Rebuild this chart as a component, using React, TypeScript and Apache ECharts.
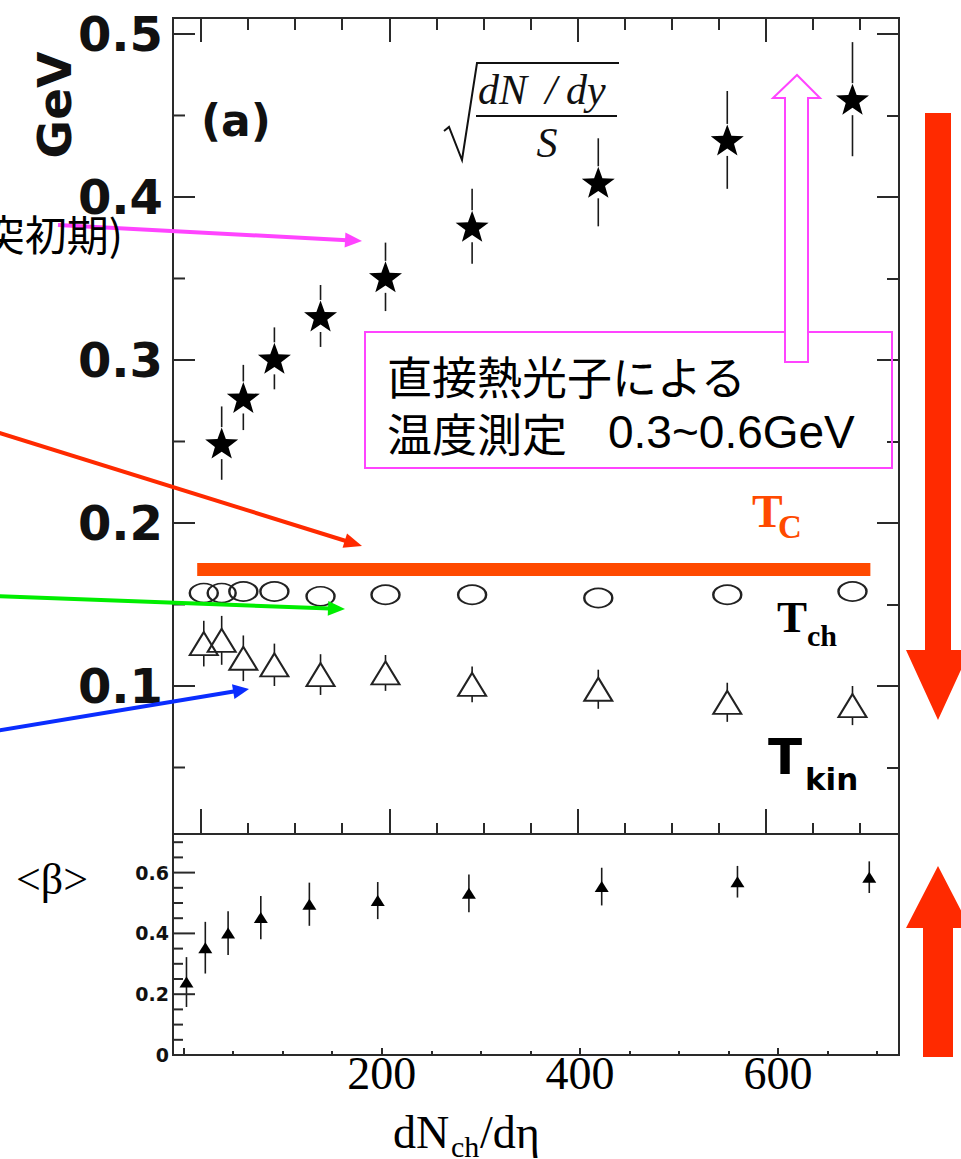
import React, { useEffect, useRef } from 'react';
import * as echarts from 'echarts';

// Charged-particle multiplicity dN_ch/dη of each centrality bin
const dNchdEta = [3, 22, 45, 78, 127, 196, 288, 422, 559, 692];
// sqrt((dN/dy)/S) in GeV, measured from the second bin on
const sqrtDensity = [0.249, 0.277, 0.301, 0.327, 0.351, 0.382, 0.409, 0.435, 0.46];
const sqrtDensityErr = [0.0225, 0.02, 0.019, 0.019, 0.021, 0.023, 0.027, 0.03, 0.035];
// Chemical freeze-out temperature T_ch (GeV)
const tChem = [0.157, 0.157, 0.158, 0.158, 0.155, 0.156, 0.156, 0.154, 0.156, 0.158];
// Kinetic freeze-out temperature T_kin (GeV)
const tKin = [0.126, 0.128, 0.117, 0.113, 0.107, 0.108, 0.101, 0.098, 0.09, 0.088];
const tKinErr = [0.014, 0.015, 0.014, 0.013, 0.0125, 0.011, 0.011, 0.012, 0.012, 0.012];
// Mean transverse flow velocity <β>
const beta = [0.24, 0.353, 0.401, 0.452, 0.496, 0.508, 0.532, 0.554, 0.57, 0.585];
const betaErr = [0.082, 0.085, 0.072, 0.071, 0.071, 0.061, 0.062, 0.062, 0.052, 0.052];
// Critical temperature T_C and the multiplicity span of its band
const tCritical = 0.1715;
const tCriticalSpan = [-4, 711];

// Axis ranges and tick positions
const topXRange = [-29.7, 741.4];
const topYRange = [0.0092, 0.5098];
const bottomXRange = [-10.6, 722];
const bottomYRange = [0, 0.727];
const xMajorTicks = [0, 200, 400, 600];
const xMinorTicks = [50, 100, 150, 250, 300, 350, 450, 500, 550, 650, 700];
const xTickLabels = [200, 400, 600];
const topYMajorTicks = [0.1, 0.2, 0.3, 0.4, 0.5];
const topYMinorTicks = [0.05, 0.15, 0.25, 0.35, 0.45];
const bottomYMajorTicks = [0, 0.2, 0.4, 0.6];
const bottomYMinorTicks = [0.05, 0.1, 0.15, 0.25, 0.3, 0.35, 0.45, 0.5, 0.55, 0.65, 0.7];

const FRAME = '#2a2a2a';
const INK = '#111';
const MAGENTA = '#FF44FF';
const RED = '#FF2A00';
const ORANGE = '#FF4A00';
const STAR =
  'path://M12,0.5 L14.9,8.6 L23.5,8.9 L16.7,14.2 L19.1,22.5 L12,17.6 L4.9,22.5 L7.3,14.2 L0.5,8.9 L9.1,8.6 Z';

function tickAxis(
  gridIndex: number,
  position: string,
  range: number[],
  ticks: number[],
  length: number,
  label?: any
) {
  return {
    type: 'value',
    gridIndex,
    position,
    min: range[0],
    max: range[1],
    axisLine: { show: false, onZero: false },
    splitLine: { show: false },
    axisTick: {
      show: length > 0,
      inside: true,
      length,
      customValues: ticks,
      lineStyle: { color: FRAME, width: 2 },
    },
    axisLabel: label ? { show: true, ...label } : { show: false },
  };
}

// Inward ticks along the left edge of a panel, placed by the panel's own scales
function leftTicks(xAxisIndex: number, yAxisIndex: number, xMin: number, values: number[], length: number) {
  return {
    type: 'custom',
    xAxisIndex,
    yAxisIndex,
    silent: true,
    z: 5,
    data: values.map((v) => [xMin, v]),
    encode: { x: 0, y: 1 },
    renderItem: (_params: any, api: any) => {
      const p = api.coord([api.value(0), api.value(1)]);
      return {
        type: 'line',
        shape: { x1: p[0], y1: p[1], x2: p[0] + length, y2: p[1] },
        style: { stroke: FRAME, lineWidth: 2 },
      };
    },
  };
}

function errorBars(xAxisIndex: number, yAxisIndex: number, data: number[][], gap: number, width: number) {
  return {
    type: 'custom',
    xAxisIndex,
    yAxisIndex,
    data,
    silent: true,
    z: 3,
    encode: { x: 0, y: 1 },
    renderItem: (_params: any, api: any) => {
      const x = api.value(0);
      const y = api.value(1);
      const e = api.value(2);
      const c = api.coord([x, y]);
      const hi = api.coord([x, y + e]);
      const lo = api.coord([x, y - e]);
      const style = { stroke: '#1a1a1a', lineWidth: width };
      const children: any[] = [];
      if (gap > 0) {
        if (c[1] - gap > hi[1])
          children.push({ type: 'line', shape: { x1: c[0], y1: hi[1], x2: c[0], y2: c[1] - gap }, style });
        if (lo[1] > c[1] + gap)
          children.push({ type: 'line', shape: { x1: c[0], y1: c[1] + gap, x2: c[0], y2: lo[1] }, style });
      } else {
        children.push({ type: 'line', shape: { x1: c[0], y1: hi[1], x2: c[0], y2: lo[1] }, style });
      }
      return { type: 'group', children };
    },
  };
}

function txt(
  x: number,
  y: number,
  text: string,
  fontSize: number,
  opts: { family?: string; weight?: string; italic?: boolean; fill?: string; align?: string; rotation?: number } = {}
) {
  const align = opts.align || 'left';
  return {
    type: 'text',
    x,
    y,
    rotation: opts.rotation || 0,
    z: 20,
    silent: true,
    style: {
      text,
      fontSize,
      fontFamily: opts.family || 'Liberation Serif',
      fontWeight: opts.weight || 'normal',
      fontStyle: opts.italic ? 'italic' : 'normal',
      fill: opts.fill || INK,
      align,
      verticalAlign: 'middle',
      textAlign: align,
      textVerticalAlign: 'middle',
    },
  };
}

// Straight arrow with a filled head ending at (x2, y2)
function arrow(x1: number, y1: number, x2: number, y2: number, color: string, headLen: number, headHalf: number) {
  const dx = x2 - x1;
  const dy = y2 - y1;
  const len = Math.hypot(dx, dy);
  const ux = dx / len;
  const uy = dy / len;
  const bx = x2 - ux * headLen;
  const by = y2 - uy * headLen;
  return [
    {
      type: 'line',
      z: 15,
      silent: true,
      shape: { x1, y1, x2: bx + ux * 2, y2: by + uy * 2 },
      style: { stroke: color, lineWidth: 4 },
    },
    {
      type: 'polygon',
      z: 15,
      silent: true,
      shape: {
        points: [
          [x2, y2],
          [bx - uy * headHalf, by + ux * headHalf],
          [bx + uy * headHalf, by - ux * headHalf],
        ],
      },
      style: { fill: color },
    },
  ];
}

function buildOption() {
  const topFont = { fontFamily: 'DejaVu Sans', fontWeight: 'bold', color: INK };

  const xAxis = [
    tickAxis(0, 'bottom', topXRange, xMajorTicks, 25),
    tickAxis(0, 'bottom', topXRange, xMinorTicks, 11),
    tickAxis(0, 'top', topXRange, xMajorTicks, 24),
    tickAxis(0, 'top', topXRange, xMinorTicks, 12),
    tickAxis(1, 'bottom', bottomXRange, xMajorTicks, 7, {
      customValues: xTickLabels,
      fontFamily: 'Liberation Serif',
      fontSize: 46,
      color: '#000',
      margin: -5,
      formatter: (v: number) => String(v),
    }),
    tickAxis(1, 'bottom', bottomXRange, xMinorTicks, 4),
  ];

  const yAxis = [
    tickAxis(0, 'left', topYRange, topYMajorTicks, 0, {
      customValues: topYMajorTicks,
      ...topFont,
      fontSize: 48,
      margin: 10,
      padding: [0, 0, 10, 0],
      formatter: (v: number) => v.toFixed(1),
    }),
    tickAxis(0, 'right', topYRange, topYMajorTicks, 22),
    tickAxis(0, 'right', topYRange, topYMinorTicks, 12),
    tickAxis(1, 'left', bottomYRange, bottomYMajorTicks, 0, {
      customValues: bottomYMajorTicks,
      ...topFont,
      fontSize: 19,
      margin: 4,
      formatter: (v: number) => (v === 0 ? '0' : v.toFixed(1)),
    }),
  ];

  const starX = dNchdEta.slice(1);
  const series: any[] = [
    leftTicks(0, 0, topXRange[0], topYMajorTicks, 22),
    leftTicks(0, 0, topXRange[0], topYMinorTicks, 12),
    leftTicks(4, 3, bottomXRange[0], bottomYMajorTicks, 22),
    leftTicks(4, 3, bottomXRange[0], bottomYMinorTicks, 10),
    {
      type: 'line',
      xAxisIndex: 0,
      yAxisIndex: 0,
      data: tCriticalSpan.map((x) => [x, tCritical]),
      symbol: 'none',
      silent: true,
      lineStyle: { color: ORANGE, width: 13, cap: 'butt' },
      z: 2,
    },
    errorBars(0, 0, starX.map((x, i) => [x, sqrtDensity[i], sqrtDensityErr[i]]), 16, 1.6),
    {
      type: 'scatter',
      xAxisIndex: 0,
      yAxisIndex: 0,
      data: starX.map((x, i) => [x, sqrtDensity[i]]),
      symbol: STAR,
      symbolSize: [33, 31],
      itemStyle: { color: '#000', opacity: 1 },
      z: 4,
    },
    {
      type: 'scatter',
      xAxisIndex: 0,
      yAxisIndex: 0,
      data: dNchdEta.map((x, i) => [x, tChem[i]]),
      symbol: 'circle',
      symbolSize: [28, 19],
      itemStyle: { color: 'rgba(0,0,0,0)', borderColor: '#222', borderWidth: 2, opacity: 1 },
      z: 4,
    },
    errorBars(0, 0, dNchdEta.map((x, i) => [x, tKin[i], tKinErr[i]]), 11.5, 1.6),
    {
      type: 'scatter',
      xAxisIndex: 0,
      yAxisIndex: 0,
      data: dNchdEta.map((x, i) => [x, tKin[i]]),
      symbol: 'triangle',
      symbolSize: [28, 23],
      itemStyle: { color: 'rgba(0,0,0,0)', borderColor: '#222', borderWidth: 2, opacity: 1 },
      z: 4,
    },
    errorBars(4, 3, dNchdEta.map((x, i) => [x, beta[i], betaErr[i]]), 0, 1.6),
    {
      type: 'scatter',
      xAxisIndex: 4,
      yAxisIndex: 3,
      data: dNchdEta.map((x, i) => [x, beta[i]]),
      symbol: 'triangle',
      symbolSize: [14, 11],
      itemStyle: { color: '#000', opacity: 1 },
      z: 4,
    },
  ];

  const sans = 'DejaVu Sans';
  const cjk = 'Noto Sans CJK JP';
  const graphic: any[] = [
    // panel annotations
    txt(54, 105, 'GeV', 47, { family: sans, weight: 'bold', align: 'center', rotation: Math.PI / 2 }),
    txt(201, 120, '(a)', 44, { family: sans, weight: 'bold' }),
    {
      type: 'polyline',
      z: 20,
      silent: true,
      shape: { points: [[444, 131], [449, 127], [462, 160], [477, 63], [619, 63]] },
      style: { stroke: INK, lineWidth: 2, fill: 'none' },
    },
    {
      type: 'line',
      z: 20,
      silent: true,
      shape: { x1: 476, y1: 116, x2: 617, y2: 116 },
      style: { stroke: INK, lineWidth: 2 },
    },
    txt(478, 90, 'dN', 42, { italic: true }),
    txt(551, 90, '/', 42, { italic: true, align: 'center' }),
    txt(566, 90, 'dy', 42, { italic: true }),
    txt(547, 143, 'S', 42, { italic: true, align: 'center' }),
    // photon measurement box
    {
      type: 'rect',
      z: 18,
      silent: true,
      shape: { x: 365, y: 332, width: 527, height: 136 },
      style: { fill: 'none', stroke: MAGENTA, lineWidth: 2 },
    },
    txt(387, 375, '直接熱光子による', 45, { family: cjk, fill: '#000' }),
    txt(387, 432, '温度測定', 45, { family: cjk, fill: '#000' }),
    txt(608, 432, '0.3~0.6GeV', 46, { family: 'Liberation Sans', fill: '#000' }),
    {
      type: 'polygon',
      z: 19,
      silent: true,
      shape: {
        points: [[785, 362], [785, 98], [773, 98], [797, 75], [820, 98], [808, 98], [808, 362]],
      },
      style: { fill: '#fff', stroke: MAGENTA, lineWidth: 2 },
    },
    // temperature labels
    txt(752, 511, 'T', 46, { weight: 'bold', fill: ORANGE }),
    txt(778, 527, 'C', 33, { weight: 'bold', fill: ORANGE }),
    txt(777, 617, 'T', 45, { weight: 'bold', fill: '#000' }),
    txt(807, 635, 'ch', 30, { weight: 'bold', fill: '#000' }),
    txt(768, 757, 'T', 50, { family: sans, weight: 'bold', fill: '#000' }),
    txt(805, 779, 'kin', 31, { family: sans, weight: 'bold', fill: '#000' }),
    // cooling / expansion arrows
    {
      type: 'polygon',
      z: 15,
      silent: true,
      shape: { points: [[925, 113], [951, 113], [951, 650], [970, 650], [938, 720], [906, 650], [925, 650]] },
      style: { fill: RED },
    },
    {
      type: 'polygon',
      z: 15,
      silent: true,
      shape: { points: [[923, 1057], [953, 1057], [953, 928], [970, 928], [938, 866], [906, 928], [923, 928]] },
      style: { fill: RED },
    },
    // bottom panel labels
    txt(52, 879, '<β>', 44, { align: 'center', fill: '#000' }),
    txt(393, 1132, 'dN', 46, { fill: '#000' }),
    txt(451, 1146, 'ch', 30, { fill: '#000' }),
    txt(480, 1132, '/dη', 46, { fill: '#000' }),
    // pointers from the side notes
    txt(123, 232, '(衝突初期)', 42, { family: cjk, fill: '#000', align: 'right' }),
    ...arrow(58, 225, 362, 241, MAGENTA, 17, 7.5),
    ...arrow(-10, 430, 362, 546, RED, 18, 7.5),
    ...arrow(-10, 596, 345, 609, '#00EE00', 17, 7.5),
    ...arrow(-10, 732, 249, 689, '#0A2DFF', 16, 7.5),
  ];

  return {
    animation: false,
    backgroundColor: '#fff',
    grid: [
      {
        left: 173,
        top: 18,
        width: 726,
        height: 816,
        show: true,
        borderColor: FRAME,
        borderWidth: 2,
        backgroundColor: 'transparent',
        containLabel: false,
        outerBoundsMode: 'none',
      },
      {
        left: 173,
        top: 834,
        width: 726,
        height: 221,
        show: true,
        borderColor: FRAME,
        borderWidth: 2,
        backgroundColor: 'transparent',
        containLabel: false,
        outerBoundsMode: 'none',
      },
    ],
    xAxis,
    yAxis,
    series,
    graphic,
  };
}

export default function App() {
  const ref = useRef<HTMLDivElement>(null);
  useEffect(() => {
    if (!ref.current) return;
    const chart = echarts.init(ref.current, null, { renderer: 'svg' });
    chart.setOption(buildOption() as any);
    return () => chart.dispose();
  }, []);
  return (
    <div
      ref={ref}
      style={{ position: 'absolute', left: 0, top: 0, width: 961, height: 1159, background: '#fff' }}
    />
  );
}
